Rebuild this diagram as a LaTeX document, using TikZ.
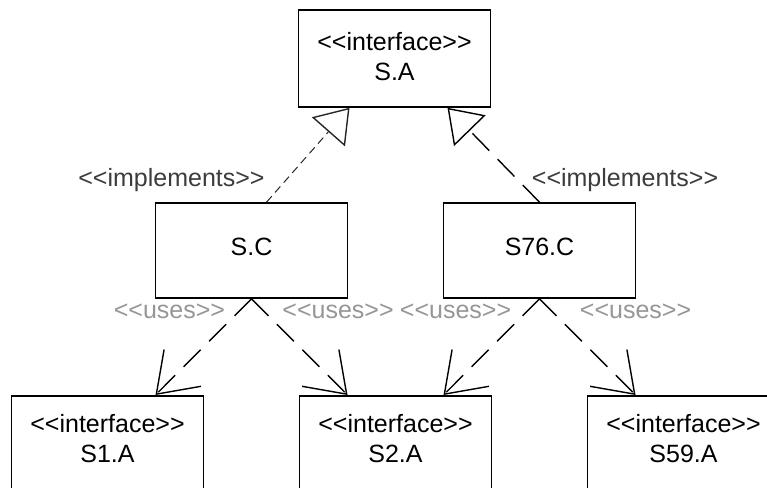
\documentclass[tikz,border=0pt]{standalone}
\usepackage{fontspec}
\setmainfont{Liberation Sans}
\usetikzlibrary{arrows.meta}
\definecolor{usesgray}{RGB}{150,150,150}
\definecolor{implgray}{RGB}{60,60,60}
\begin{document}
\begin{tikzpicture}[x=1pt,y=-1pt,
  every node/.style={font=\fontsize{25}{30}\selectfont},
  box/.style={draw=black, line width=1.6pt, fill=white, minimum width=192pt, align=center, inner sep=0pt},
  topbox/.style={box, minimum height=97pt, text depth=5pt},
  midbox/.style={box, minimum height=95pt, text depth=7pt},
  botbox/.style={box, minimum height=105pt, text depth=19pt, anchor=north},
  usesline/.style={draw=black, line width=1.4pt, dash pattern=on 24pt off 12pt,
    -{Straight Barb[length=37pt,width=52pt,line width=1.4pt]}},
  impllineA/.style={draw=black!85, line width=1pt, dash pattern=on 8pt off 5pt,
    -{Triangle[open,length=32pt,width=44pt,line width=1.4pt]}},
  impllineB/.style={draw=black, line width=1.4pt, dash pattern=on 24pt off 12pt,
    -{Triangle[open,length=32pt,width=44pt,line width=1.4pt]}},
  useslabel/.style={text=usesgray, inner sep=0pt, anchor=base},
  impllabel/.style={text=implgray, inner sep=0pt, anchor=base}
]
\useasboundingbox (0,0) rectangle (767,487);
\clip (0,0) rectangle (767,487);

% boxes
\node[topbox] (SA) at (394.5,58.5) {<{}<interface>{}>\\S.A};
\node[midbox] (SC) at (251.5,250.5) {S.C};
\node[midbox] (S76C) at (539.5,250.5) {S76.C};
\node[botbox] (S1A) at (107.5,395) {<{}<interface>{}>\\S1.A};
\node[botbox] (S2A) at (395.5,395) {<{}<interface>{}>\\S2.A};
\node[botbox] (S59A) at (683.5,395) {<{}<interface>{}>\\S59.A};

% implements
\draw[impllineA] ([xshift=15pt]SC.north) -- ([xshift=-45pt]SA.south);
\draw[impllineB] (S76C.north) -- ([xshift=53pt]SA.south);
\node[impllabel] (il1) at (171.5,186) {<{}<implements>{}>};
\node[impllabel] (il2) at (625,186) {<{}<implements>{}>};

% uses
\draw[usesline] (SC.south) -- ([xshift=48pt]S1A.north);
\draw[usesline] (SC.south) -- ([xshift=-48pt]S2A.north);
\draw[usesline] (S76C.south) -- ([xshift=48pt]S2A.north);
\draw[usesline] (S76C.south) -- ([xshift=-48pt]S59A.north);
\node[useslabel] (ul1) at (169.5,318) {<{}<uses>{}>};
\node[useslabel] (ul2) at (338,318) {<{}<uses>{}>};
\node[useslabel] (ul3) at (455.5,318) {<{}<uses>{}>};
\node[useslabel] (ul4) at (635.5,318) {<{}<uses>{}>};
\end{tikzpicture}
\end{document}
